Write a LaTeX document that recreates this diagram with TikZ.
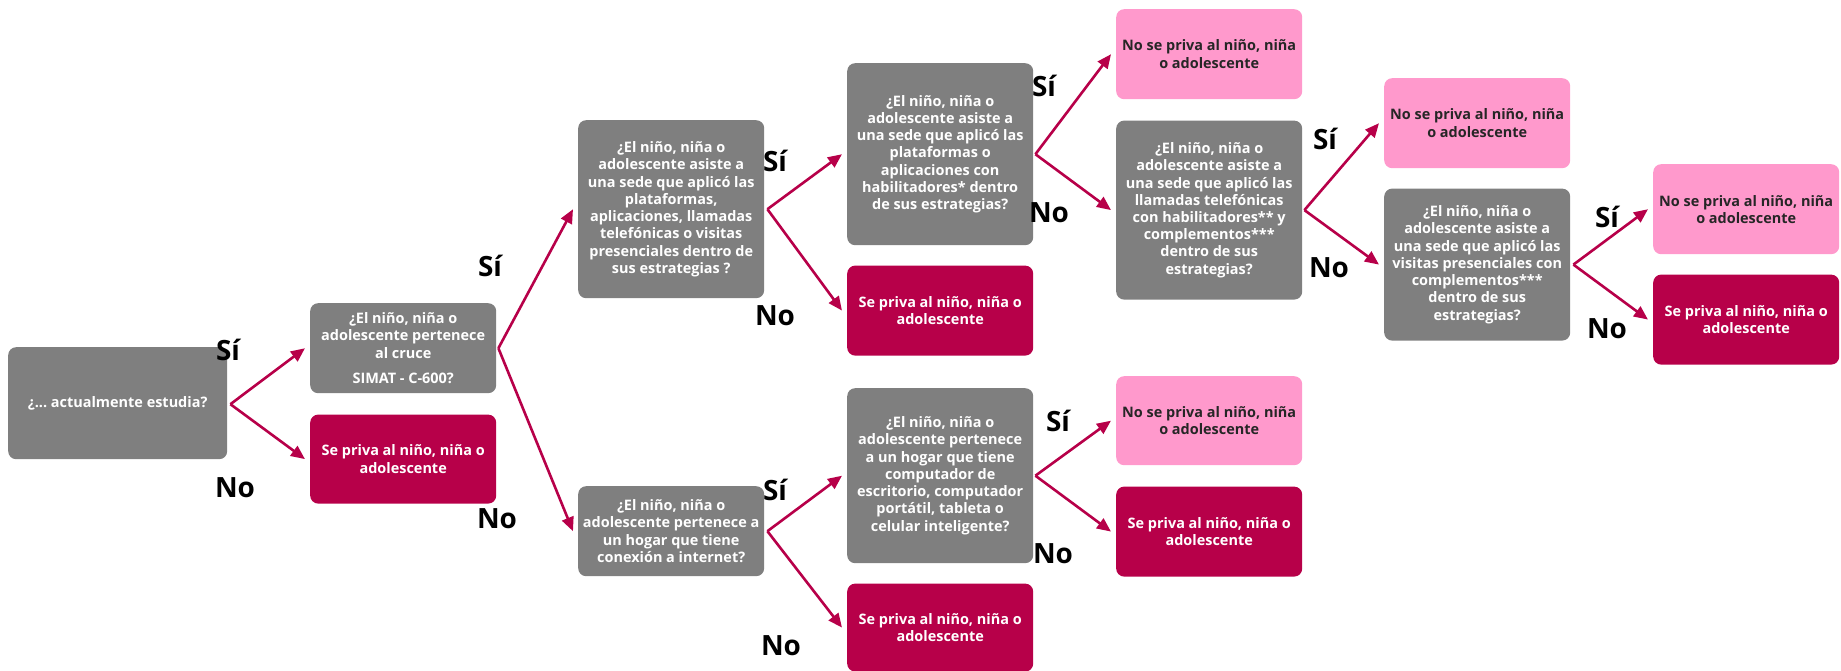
\documentclass[tikz,border=0pt]{standalone}
\usepackage{fontspec}
\setmainfont{Open Sans}
\usepackage{xcolor}
\usepackage{tikz}
\usetikzlibrary{arrows.meta, positioning}
\definecolor{qgray}{RGB}{127,127,127}
\definecolor{qred}{RGB}{183,0,73}
\definecolor{qpink}{RGB}{255,153,204}
\definecolor{qtxt}{RGB}{38,38,38}
\frenchspacing
\newcommand{\boxfont}{\fontsize{14.5}{17.3}\selectfont\bfseries}
\newcommand{\ansfont}{\fontsize{28}{30}\selectfont\bfseries}
\tikzset{
  qst/.style  ={rectangle, rounded corners=8bp, fill=qgray, text=white, align=center, minimum width=186bp, inner xsep=0pt, inner ysep=0pt, font=\boxfont},
  priv/.style ={qst, fill=qred},
  npriv/.style={qst, fill=qpink, text=qtxt},
  fl/.style   ={draw=qred, line width=2.6bp, -{Triangle[length=14bp, width=12bp]}},
  ans/.style  ={font=\ansfont, text=black, inner sep=0pt},
}
\begin{document}
\begin{tikzpicture}[x=1bp, y=-1bp]
  \useasboundingbox (0,0) rectangle (1841,671);
  % column 0 and 1
  \node[qst, minimum width=219bp, minimum height=112bp, anchor=north west] (est) at (8,347) {¿... actualmente estudia?};
  \node[qst, minimum height=90bp, anchor=north west] (simat) at (310,303) {¿El niño, niña o\\adolescente pertenece\\al cruce\\[8bp]SIMAT - C-600?};
  \node[priv, minimum height=89bp, below=21bp of simat] (priv1) {Se priva al niño, niña o\\adolescente};
  % column 2
  \node[qst, minimum height=178bp, anchor=north west] (sede) at (578,120) {¿El niño, niña o\\adolescente asiste a\\una sede que aplicó las\\plataformas,\\aplicaciones, llamadas\\telefónicas o visitas\\presenciales dentro de\\sus estrategias ?};
  \node[qst, minimum height=90bp, anchor=north west] (inet) at (578,486) {¿El niño, niña o\\adolescente pertenece a\\un hogar que tiene\\conexión a internet?};
  % column 3
  \node[qst, minimum height=182bp, anchor=north west] (plat) at (847,63) {¿El niño, niña o\\adolescente asiste a\\una sede que aplicó las\\plataformas o\\aplicaciones con\\habilitadores* dentro\\de sus estrategias?};
  \node[priv, minimum height=90bp, below=20bp of plat] (priv2) {Se priva al niño, niña o\\adolescente};
  \node[qst, minimum height=175bp, anchor=north west] (comp) at (847,388) {¿El niño, niña o\\adolescente pertenece\\a un hogar que tiene\\computador de\\escritorio, computador\\portátil, tableta o\\celular inteligente?};
  \node[priv, minimum height=88bp, below=20bp of comp] (priv3) {Se priva al niño, niña o\\adolescente};
  % column 4
  \node[npriv, minimum height=90bp, anchor=north west] (npr1) at (1116,9) {No se priva al niño, niña\\o adolescente};
  \node[qst, minimum height=179bp, below=21bp of npr1] (llam) {¿El niño, niña o\\adolescente asiste a\\una sede que aplicó las\\llamadas telefónicas\\con habilitadores** y\\complementos***\\dentro de sus\\estrategias?};
  \node[npriv, minimum height=89bp, anchor=north west] (npr2) at (1116,376) {No se priva al niño, niña\\o adolescente};
  \node[priv, minimum height=90bp, below=21bp of npr2] (priv4) {Se priva al niño, niña o\\adolescente};
  % column 5 and 6
  \node[npriv, minimum height=90bp, anchor=north west] (npr3) at (1384,78) {No se priva al niño, niña\\o adolescente};
  \node[qst, minimum height=152bp, below=20bp of npr3] (visi) {¿El niño, niña o\\adolescente asiste a\\una sede que aplicó las\\visitas presenciales con\\complementos***\\dentro de sus\\estrategias?};
  \node[npriv, minimum height=90bp, anchor=north west] (npr4) at (1653,164) {No se priva al niño, niña\\o adolescente};
  \node[priv, minimum height=90bp, below=20bp of npr4] (priv5) {Se priva al niño, niña o\\adolescente};
  % forks
  \coordinate (f0) at ([xshift=3bp, yshift=-1bp]est.east);
  \coordinate (f1) at ([xshift=2bp]simat.east);
  \coordinate (f2) at ([xshift=3bp]sede.east);
  \coordinate (f3) at ([xshift=3bp]inet.east);
  \coordinate (f4) at ([xshift=2bp]plat.east);
  \coordinate (f5) at ([xshift=2bp]comp.east);
  \coordinate (f6) at ([xshift=2bp]llam.east);
  \coordinate (f7) at ([xshift=3bp]visi.east);
  \draw[fl] (f0) -- ([xshift=-5bp]simat.west);
  \draw[fl] (f0) -- ([xshift=-5bp]priv1.west);
  \draw[fl] (f1) -- ([xshift=-5bp]sede.west);
  \draw[fl] (f1) -- ([xshift=-5bp]inet.west);
  \draw[fl] (f2) -- ([xshift=-5bp]plat.west);
  \draw[fl] (f2) -- ([xshift=-5bp]priv2.west);
  \draw[fl] (f3) -- ([xshift=-5bp]comp.west);
  \draw[fl] (f3) -- ([xshift=-5bp]priv3.west);
  \draw[fl] (f4) -- ([xshift=-5bp]npr1.west);
  \draw[fl] (f4) -- ([xshift=-5bp]llam.west);
  \draw[fl] (f5) -- ([xshift=-5bp]npr2.west);
  \draw[fl] (f5) -- ([xshift=-5bp]priv4.west);
  \draw[fl] (f6) -- ([xshift=-5bp]npr3.west);
  \draw[fl] (f6) -- ([xshift=-5bp]visi.west);
  \draw[fl] (f7) -- ([xshift=-5bp]npr4.west);
  \draw[fl] (f7) -- ([xshift=-5bp]priv5.west);
  % answers
  \node[ans] (s0) at (228,350) {Sí};
  \node[ans] (n0) at (235,488) {No};
  \node[ans] (s1) at (490,266) {Sí};
  \node[ans] (n1) at (497,519) {No};
  \node[ans] (s2) at (775,161) {Sí};
  \node[ans] (n2) at (775,316) {No};
  \node[ans] (s3) at (775,490) {Sí};
  \node[ans] (n3) at (781,646) {No};
  \node[ans] (s4) at (1044,86) {Sí};
  \node[ans] (n4) at (1049,213) {No};
  \node[ans] (s5) at (1058,421) {Sí};
  \node[ans] (n5) at (1053,554) {No};
  \node[ans] (s6) at (1325,139) {Sí};
  \node[ans] (n6) at (1329,268) {No};
  \node[ans] (s7) at (1607,217) {Sí};
  \node[ans] (n7) at (1607,329) {No};
\end{tikzpicture}
\end{document}
